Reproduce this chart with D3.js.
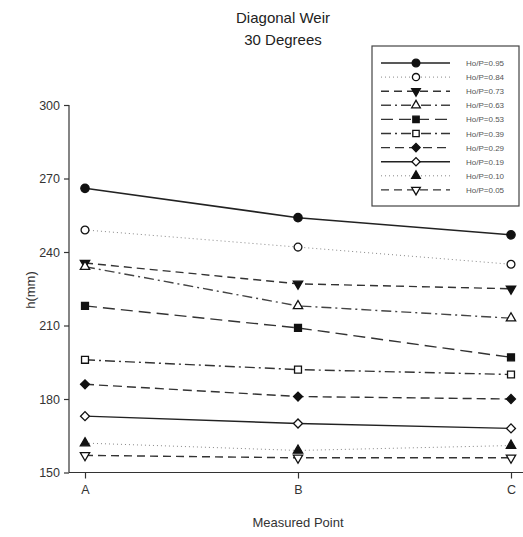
<!DOCTYPE html>
<html>
<head>
<meta charset="utf-8">
<script src="https://cdn.jsdelivr.net/npm/d3@7"></script>
<style>
  body { margin: 0; background: #fff; }
  svg { font-family: Arial, "Liberation Sans", sans-serif; }
</style>
</head>
<body>
<div id="chart"></div>
<script>
// 数据
const points = ['A', 'B', 'C'];
const seriesNames = ['Ho/P=0.95', 'Ho/P=0.84', 'Ho/P=0.73', 'Ho/P=0.63', 'Ho/P=0.53',
    'Ho/P=0.39', 'Ho/P=0.29', 'Ho/P=0.19', 'Ho/P=0.10', 'Ho/P=0.05'];
const h095 = [266, 254, 247];
const h084 = [249, 242, 235];
const h073 = [235.5, 227, 225];
const h063 = [234, 218, 213];
const h053 = [218, 209, 197];
const h039 = [196, 192, 190];
const h029 = [186, 181, 180];
const h019 = [173, 170, 168];
const h010 = [162, 159, 161];
const h005 = [157, 156, 156];
const yTicks = [150, 180, 210, 240, 270, 300];

const seriesValues = [h095, h084, h073, h063, h053, h039, h029, h019, h010, h005];

// 线型 & 标记 (diamond = 旋转45度的正方形)
const styles = [
    { dash: null, width: 1.6, color: '#222', sym: d3.symbolCircle, size: 55, fill: true },
    { dash: '1,3', width: 1, color: '#888', sym: d3.symbolCircle, size: 48, fill: false },
    { dash: '8,5', width: 1.4, color: '#333', sym: d3.symbolTriangle, size: 38, fill: true, rot: 180 },
    { dash: '10,4,2,4', width: 1.4, color: '#444', sym: d3.symbolTriangle, size: 38, fill: false },
    { dash: '12,6', width: 1.4, color: '#333', sym: d3.symbolSquare, size: 48, fill: true },
    { dash: '10,4,2,4', width: 1.4, color: '#333', sym: d3.symbolSquare, size: 48, fill: false },
    { dash: '9,5', width: 1.4, color: '#333', sym: d3.symbolSquare, size: 40, fill: true, rot: 45 },
    { dash: null, width: 1.4, color: '#222', sym: d3.symbolSquare, size: 40, fill: false, rot: 45 },
    { dash: '1,3', width: 1, color: '#888', sym: d3.symbolTriangle, size: 38, fill: true },
    { dash: '8,5', width: 1.4, color: '#333', sym: d3.symbolTriangle, size: 38, fill: false, rot: 180 }
];

const width = 523, height = 537;
const svg = d3.select('#chart').append('svg').attr('width', width).attr('height', height);

const x = d3.scalePoint().domain(points).range([85, 511]);
const y = d3.scaleLinear().domain([150, 300]).range([472.5, 105]);

// 标题
svg.append('text').attr('x', 283).attr('y', 23).attr('text-anchor', 'middle')
    .style('font-size', '15px').attr('fill', '#222').text('Diagonal Weir');
svg.append('text').attr('x', 283).attr('y', 45).attr('text-anchor', 'middle')
    .style('font-size', '15px').attr('fill', '#222').text('30 Degrees');

// 坐标轴
const yAxis = svg.append('g').attr('transform', 'translate(69,0)')
    .call(d3.axisLeft(y).tickValues(yTicks).tickSize(5).tickPadding(4));
yAxis.select('.domain').attr('d', `M0,${y(300)}V${y(150)}`);

const xAxis = svg.append('g').attr('transform', `translate(0,${y(150)})`)
    .call(d3.axisBottom(x).tickSize(6).tickPadding(7));
xAxis.select('.domain').attr('d', 'M69,0H523');

svg.selectAll('.tick text').style('font-size', '12.5px').attr('fill', '#333');
svg.selectAll('.domain, .tick line').attr('stroke', '#333').attr('stroke-width', 1.2);

svg.append('text').attr('transform', 'translate(35,290) rotate(-90)')
    .attr('text-anchor', 'middle').style('font-size', '13px').attr('fill', '#333').text('h(mm)');
svg.append('text').attr('x', 298).attr('y', 527).attr('text-anchor', 'middle')
    .style('font-size', '13px').attr('fill', '#333').text('Measured Point');

// 折线
const line = d3.line().x(function (d, i) { return x(points[i]); }).y(function (d) { return y(d); });

function marker(g, s, scale) {
    return g.append('path')
        .attr('d', d3.symbol().type(s.sym).size(s.size * scale))
        .attr('transform', s.rot ? `rotate(${s.rot})` : null)
        .attr('fill', s.fill ? '#111' : '#fff')
        .attr('stroke', '#111').attr('stroke-width', 1.3);
}

const series = svg.append('g').selectAll('g').data(seriesValues).join('g');
series.each(function (vals, k) {
    const s = styles[k];
    const g = d3.select(this);
    g.append('path').attr('d', line(vals)).attr('fill', 'none')
        .attr('stroke', s.color).attr('stroke-width', s.width)
        .attr('stroke-dasharray', s.dash);
    vals.forEach(function (v, i) {
        const mg = g.append('g').attr('transform', `translate(${x(points[i])},${y(v)})`);
        marker(mg, s, 1);
    });
});

// 图例
const legend = svg.append('g');
legend.append('rect').attr('x', 372).attr('y', 46).attr('width', 147).attr('height', 160)
    .attr('fill', '#fff').attr('stroke', '#444').attr('stroke-width', 1.2);

seriesNames.forEach(function (name, k) {
    const s = styles[k];
    const yy = 63 + k * 14.1;
    legend.append('line').attr('x1', 381).attr('x2', 450).attr('y1', yy).attr('y2', yy)
        .attr('stroke', s.color).attr('stroke-width', s.width).attr('stroke-dasharray', s.dash);
    const mg = legend.append('g').attr('transform', `translate(416,${yy})`);
    marker(mg, s, 0.85);
    legend.append('text').attr('x', 466).attr('y', yy + 3).style('font-size', '8px')
        .attr('fill', '#555').text(name);
});
</script>
</body>
</html>
